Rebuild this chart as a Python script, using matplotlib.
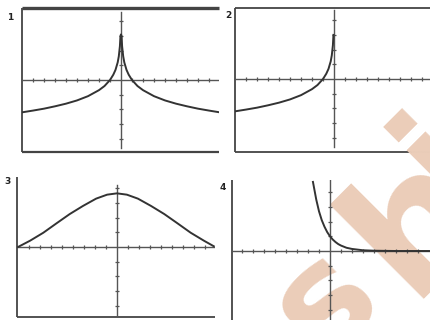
import matplotlib
matplotlib.use("Agg")
import matplotlib.pyplot as plt

W, H = 431, 320

# panel 1: y = -ln|x|
p1_x = [-9, -8, -7, -6, -5, -4, -3, -2, -1.5, -1, -0.7, -0.5, -0.3, -0.2, -0.1, -0.05,
        0, 0.05, 0.1, 0.2, 0.3, 0.5, 0.7, 1, 1.5, 2, 3, 4, 5, 6, 7, 8, 8.9]
p1_y = [-2.2, -2.08, -1.95, -1.79, -1.61, -1.39, -1.1, -0.69, -0.41, 0.0, 0.36, 0.69, 1.2, 1.61, 2.3, 3.0,
        3.1, 3.0, 2.3, 1.61, 1.2, 0.69, 0.36, 0.0, -0.41, -0.69, -1.1, -1.39, -1.61, -1.79, -1.95, -2.08, -2.19]

# panel 2: left branch only
p2_x = [-9, -8, -7, -6, -5, -4, -3, -2, -1.5, -1, -0.7, -0.5, -0.3, -0.2, -0.1, -0.05]
p2_y = [-2.2, -2.08, -1.95, -1.79, -1.61, -1.39, -1.1, -0.69, -0.41, 0.0, 0.36, 0.69, 1.2, 1.61, 2.3, 3.0]

# panel 3: hump
p3_x = [-9, -7.9, -6.7, -5.5, -4.3, -3.1, -1.9, -0.9, 0, 0.9, 1.9, 3.1, 4.3, 5.5, 6.7, 7.9, 8.8]
p3_y = [0.0, 0.43, 0.97, 1.61, 2.24, 2.79, 3.29, 3.56, 3.65, 3.56, 3.29, 2.79, 2.24, 1.61, 0.97, 0.43, 0.05]

# panel 4: decay
p4_x = [-1.55, -1.25, -1.0, -0.75, -0.5, -0.25, 0, 0.25, 0.5, 0.75, 1, 1.5, 2, 3, 4, 6, 9]
p4_y = [4.7, 3.5, 2.7, 2.1, 1.65, 1.28, 1.0, 0.78, 0.61, 0.47, 0.37, 0.22, 0.14, 0.05, 0.02, 0.0, 0.0]

x_ticks = [-8, -7, -6, -5, -4, -3, -2, -1, 1, 2, 3, 4, 5, 6, 7, 8]
y_ticks = [-4, -3, -2, -1, 1, 2, 3, 4]

AXIS = "#555555"
CURVE = "#333333"
FRAME = "#444444"
WMARK = "#ebcdb9"

fig = plt.figure(figsize=(W / 100, H / 100), dpi=100)

# background layer in pixel coords: watermark, frames, labels
bg = fig.add_axes([0, 0, 1, 1], zorder=0)
bg.set_xlim(0, W)
bg.set_ylim(H, 0)
bg.axis("off")

# watermark letters placed one by one
for piece, px, py, fs in [("s", 323, 361, 105), ("h", 409, 299, 125), ("i", 453, 210, 110)]:
    bg.text(px, py, piece, rotation=45, color=WMARK, fontsize=fs, fontweight="bold",
            family="DejaVu Sans", ha="left", va="baseline", rotation_mode="anchor")

frames = [
    ([22, 22], [8, 152], 1.3), ([22, 219], [8, 8], 2.4), ([22, 219], [152, 152], 1.6),
    ([235, 235], [8, 152], 1.3), ([235, 431], [8, 8], 1.3), ([235, 431], [152, 152], 1.3),
    ([17, 17], [177, 317], 1.3), ([17, 215], [317, 317], 1.3),
    ([232, 232], [180, 320], 1.3),
]
for fx, fy, lw in frames:
    bg.plot(fx, fy, color=FRAME, lw=lw, solid_capstyle="butt")

for lab, lx, ly in [("1", 10, 18), ("2", 228, 15), ("3", 8, 181), ("4", 223, 187)]:
    bg.text(lx, ly, lab, fontsize=6.5, fontweight="bold", ha="center", va="center", color="#222222")


def panel(left, right, top, bottom, ox, oy, yaxis_top, yaxis_bottom, xs, ys):
    ax = fig.add_axes([left / W, 1 - bottom / H, (right - left) / W, (bottom - top) / H], zorder=1)
    ax.patch.set_alpha(0)
    ax.set_xlim((left - ox) / 11, (right - ox) / 11)
    ax.set_ylim((oy - bottom) / 14.7, (oy - top) / 14.7)
    ax.axis("off")
    ax.axhline(0, color=AXIS, lw=1.0)
    ax.plot([0, 0], [(oy - yaxis_bottom) / 14.7, (oy - yaxis_top) / 14.7], color=AXIS, lw=1.0)
    ax.plot(x_ticks, [0] * len(x_ticks), ls="none", marker="|", ms=3.5, mew=0.9, color=AXIS)
    ax.plot([0] * len(y_ticks), y_ticks, ls="none", marker="_", ms=3, mew=0.9, color=AXIS)
    ax.plot(xs, ys, color=CURVE, lw=1.4, clip_on=True)
    return ax


panel(22, 219, 8, 152, 121, 80, 12, 148, p1_x, p1_y)
panel(235, 431, 8, 152, 334, 79, 10, 147, p2_x, p2_y)
panel(17, 215, 177, 317, 117, 247, 185, 317, p3_x, p3_y)
panel(232, 431, 180, 320, 330, 251, 180, 320, p4_x, p4_y)

fig.savefig("out.png", dpi=100)
